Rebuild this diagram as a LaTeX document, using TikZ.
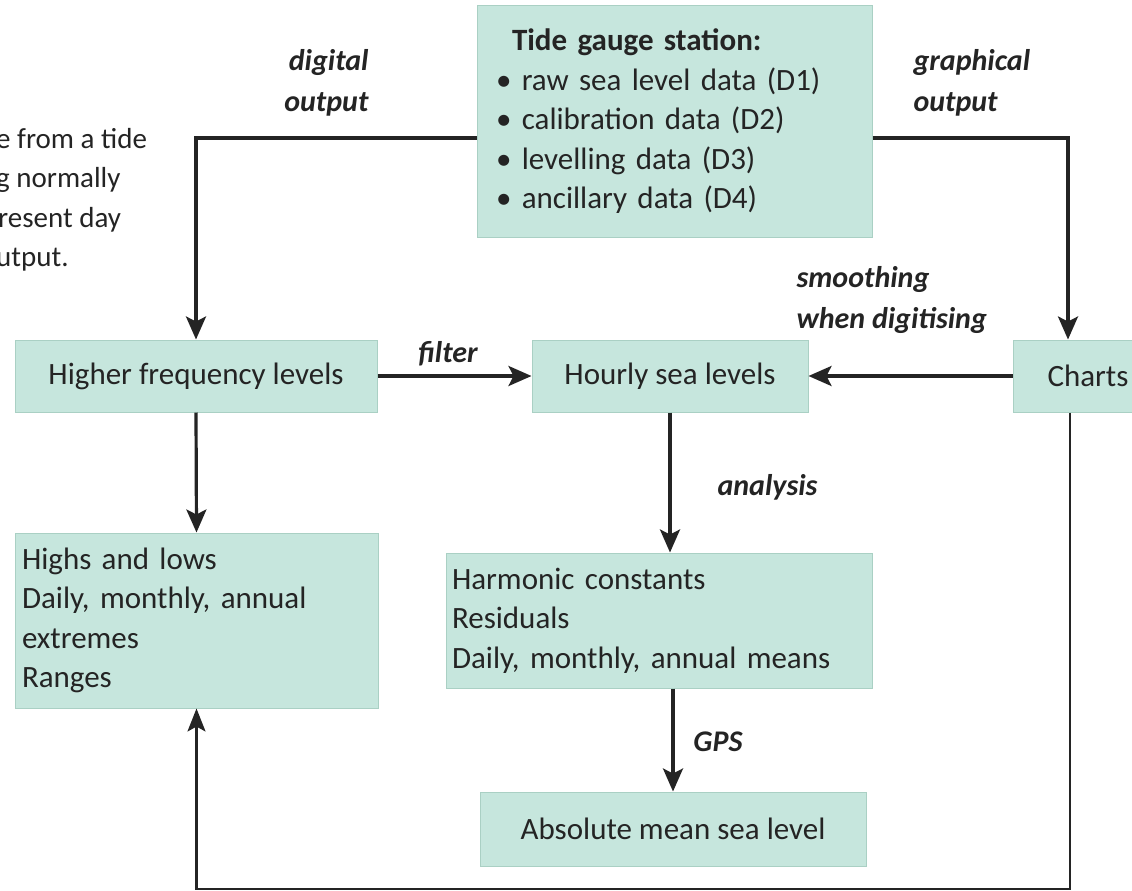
\documentclass[tikz,border=0pt]{standalone}
\usepackage{fontspec}
\setmainfont{Carlito}
\usetikzlibrary{arrows.meta}
\definecolor{boxgreen}{RGB}{198,230,221}
\definecolor{boxedge}{RGB}{170,208,196}
\definecolor{inkgray}{RGB}{36,36,36}

\begin{document}
\begin{tikzpicture}[x=1pt, y=-1pt,
    box/.style={fill=boxgreen, draw=boxedge, line width=1pt, inner sep=0pt,
      font=\fontsize{31}{39.5}\selectfont, text=inkgray},
    lbl/.style={font=\fontsize{30}{41}\selectfont\bfseries\itshape, text=inkgray},
    flow/.style={draw=inkgray, line width=3.2pt, -{Stealth[length=23pt,width=20pt,inset=5pt]}},
    backflow/.style={draw=inkgray, line width=2.5pt, -{Stealth[length=23pt,width=18pt,inset=5pt]}}]
  \useasboundingbox (0,0) rectangle (1132,891);
  \clip (0,0) rectangle (1132,891);

  % boxes
  \node[box, minimum width=395pt, minimum height=231pt, text width=373pt, inner xsep=11pt, align=left]
    (tide) at (674.5,121.5)
    {\hspace{24pt}\textbf{Tide gauge station:}\\
     \hspace{8pt}\textbullet\ raw sea level data (D1)\\
     \hspace{8pt}\textbullet\ calibration data (D2)\\
     \hspace{8pt}\textbullet\ levelling data (D3)\\
     \hspace{8pt}\textbullet\ ancillary data (D4)};
  \node[box, minimum width=362pt, minimum height=72pt] (hfl) at (196,376) {Higher frequency levels};
  \node[box, minimum width=276pt, minimum height=72pt] (hourly) at (670,376) {Hourly sea levels};
  \node[box, minimum width=150pt, minimum height=72pt] (charts) at (1088,376) {Charts};
  \node[box, minimum width=363pt, minimum height=175pt, text width=349pt, inner xsep=7pt, align=left]
    (highs) at (196.5,620.5)
    {Highs and lows\\ Daily, monthly, annual\\ extremes\\ Ranges};
  \node[box, minimum width=426pt, minimum height=135pt, text width=414pt, inner xsep=6pt, align=left]
    (harm) at (659,620.5)
    {Harmonic constants\\ Residuals\\ Daily, monthly, annual means};
  \node[box, minimum width=386pt, minimum height=74pt] (absl) at (673,829) {Absolute mean sea level};

  % cut-off note on the left
  \node[anchor=north west, align=left, inner sep=0pt, text=inkgray, font=\fontsize{29}{39.5}\selectfont]
    (note) at (-4,128) {e from a tide\\ g normally\\ \hspace{2pt}resent day\\ utput.};

  % labels
  \node[lbl, anchor=east, align=right] (dig) at (372,83) {digital\\ output};
  \node[lbl, anchor=west, align=left] (graph) at (910,83) {graphical\\ output};
  \node[lbl, anchor=west, align=left] (smooth) at (793,300) {smoothing\\ when digitising};
  \node[lbl] (filt) at (448,354) {filter};
  \node[lbl, anchor=west] (anal) at (714,487) {analysis};
  \node[lbl] (gps) at (718,742) {GPS};

  % connectors
  \coordinate (tap) at (0,138);
  \coordinate (rcol) at (1068,0);
  \coordinate (loop) at (1070,889);
  \draw[flow] (tide.west |- tap) -| (hfl.north);
  \draw[flow] (tide.east |- tap) -| (rcol |- charts.north);
  \draw[flow] (hfl.east) -- (hourly.west);
  \draw[flow] (charts.west) -- (hourly.east);
  \draw[flow] (hfl.south) -- (highs.north);
  \draw[flow] (hourly.south) -- (hourly.south |- harm.north);
  \draw[flow] (absl.north |- harm.south) -- (absl.north);
  \draw[backflow] (loop |- charts.south) -- (loop) -| (highs.south);
\end{tikzpicture}
\end{document}
